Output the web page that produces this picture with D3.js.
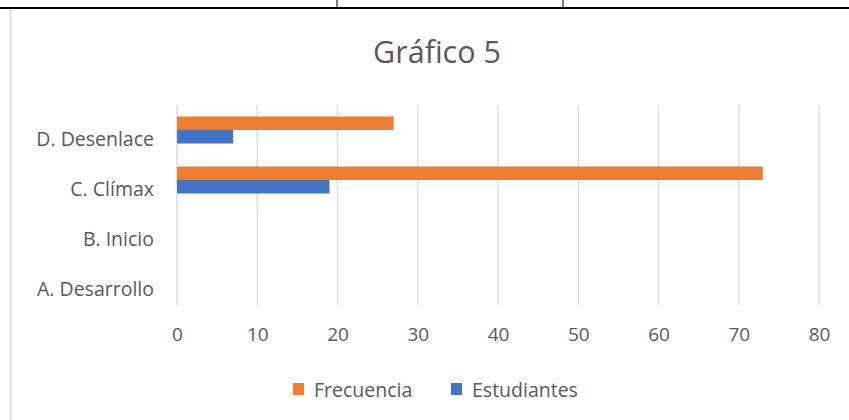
<!DOCTYPE html>
<html><head><meta charset="utf-8">
<script src="https://cdn.jsdelivr.net/npm/d3@7"></script>
<style>html,body{margin:0;padding:0;background:#fff;}svg{display:block;}</style>
</head><body>
<svg id="c" width="849" height="420"></svg>
<script>
const categories = ["A. Desarrollo", "B. Inicio", "C. Clímax", "D. Desenlace"];
const seriesNames = ["Frecuencia", "Estudiantes"];
const frecuencia = [0, 0, 73, 27];
const estudiantes = [0, 0, 19, 7];
const xTicks = [0, 10, 20, 30, 40, 50, 60, 70, 80];
const title = "Gráfico 5";
const colors = ["#ED7D31", "#4472C4"];

const svg = d3.select("#c");
const font = "'Open Sans', sans-serif";
const textColor = "#595959";

// page table borders
svg.append("line").attr("x1",0).attr("x2",849).attr("y1",8).attr("y2",8).attr("stroke","#000").attr("stroke-width",2.2);
[337, 563].forEach(x => svg.append("line").attr("x1",x).attr("x2",x).attr("y1",0).attr("y2",8).attr("stroke","#000").attr("stroke-width",1));
svg.append("line").attr("x1",10.5).attr("x2",10.5).attr("y1",9).attr("y2",420).attr("stroke","#d4d4d4").attr("stroke-width",1.5);

const x = d3.scaleLinear().domain([0, 80]).range([177, 819]);
const y = d3.scaleBand().domain(categories.slice().reverse()).range([105, 305]);
const inner = d3.scaleBand().domain(seriesNames).range([0, 27]);
const top0 = (y.bandwidth() - 27) / 2;

// gridlines
svg.append("g").selectAll("line").data(xTicks).join("line")
  .attr("x1", d => x(d)).attr("x2", d => x(d))
  .attr("y1", 105).attr("y2", 305)
  .attr("stroke", "#d9d9d9").attr("stroke-width", 1.3);

// x axis labels
const xAxis = d3.axisBottom(x).tickValues(xTicks).tickSize(0).tickPadding(0);
const gx = svg.append("g").attr("transform", "translate(0,334)").call(xAxis);
gx.select(".domain").remove();
gx.selectAll("text").attr("font-family", font).attr("font-size", 19).attr("fill", textColor).attr("dy", "0.35em");

// y axis labels
const yAxis = d3.axisLeft(y).tickSize(0).tickPadding(0);
const gy = svg.append("g").attr("transform", "translate(154,10)").call(yAxis);
gy.select(".domain").remove();
gy.selectAll("text").attr("font-family", font).attr("font-size", 19.5).attr("fill", textColor);

// bars
const seriesData = [frecuencia, estudiantes];
seriesNames.forEach((s, si) => {
  svg.append("g").selectAll("rect").data(categories).join("rect")
    .attr("x", x(0))
    .attr("y", (c) => y(c) + top0 + inner(s))
    .attr("height", inner.bandwidth())
    .attr("width", (c, i) => x(seriesData[si][i]) - x(0))
    .attr("fill", colors[si]);
});

// title
svg.append("text").attr("x", 437).attr("y", 63).attr("text-anchor", "middle")
  .attr("font-family", font).attr("font-size", 30.5).attr("fill", textColor).text(title);

// legend
const legendX = [293, 451];
seriesNames.forEach((s, i) => {
  svg.append("rect").attr("x", legendX[i]).attr("y", 383).attr("width", 11).attr("height", 12).attr("fill", colors[i]);
  svg.append("text").attr("x", legendX[i] + 21).attr("y", 397).attr("font-family", font).attr("font-size", 19.5).attr("fill", textColor).text(s);
});
</script>
</body></html>
